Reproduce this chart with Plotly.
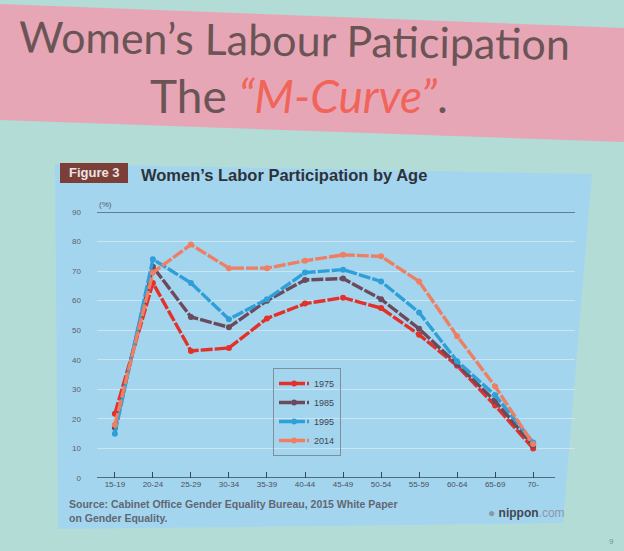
import plotly.graph_objects as go

age_groups = ["15-19", "20-24", "25-29", "30-34", "35-39", "40-44",
              "45-49", "50-54", "55-59", "60-64", "65-69", "70-"]
y1975 = [21.7, 66.0, 43.0, 44.0, 54.0, 59.0, 61.0, 57.5, 48.5, 38.0, 24.5, 10.0]
y1985 = [17.0, 71.5, 54.5, 51.0, 60.0, 67.0, 67.5, 60.5, 50.5, 38.5, 26.0, 11.0]
y1995 = [15.0, 74.0, 66.0, 53.7, 60.5, 69.5, 70.5, 66.5, 56.0, 39.5, 28.0, 12.0]
y2014 = [18.0, 69.5, 79.0, 71.0, 71.0, 73.5, 75.5, 75.0, 66.5, 48.0, 31.0, 11.5]
series_names = ["1975", "1985", "1995", "2014"]
series_colors = ["#e2312a", "#6a4a5c", "#2f9fd8", "#ef7f62"]
y_ticks = [0, 10, 20, 30, 40, 50, 60, 70, 80, 90]

xs = list(range(len(age_groups)))
fig = go.Figure()
for name, vals, col in zip(series_names, [y1975, y1985, y1995, y2014], series_colors):
    fig.add_trace(go.Scatter(
        x=xs, y=vals, name=name, mode="lines+markers",
        line=dict(color=col, width=3.4, dash="12px,2px"),
        marker=dict(color=col, size=6),
    ))

W, H = 624, 551
L, R, T, B = 97, 49, 212, 73
pw, ph = W - L - R, H - T - B


def px(x):
    return (x - L) / pw


def py(y):
    return (H - B - y) / ph


def path_from(points):
    return "M " + " L ".join(f"{px(x):.4f} {py(y):.4f}" for x, y in points) + " Z"


shapes = [
    dict(type="path", xref="paper", yref="paper", layer="below",
         path=path_from([(0, 4), (624, 28), (624, 142), (0, 120)]),
         fillcolor="#e7a6b5", line=dict(width=0)),
    dict(type="path", xref="paper", yref="paper", layer="below",
         path=path_from([(55, 164), (592, 174), (563, 523), (58, 529)]),
         fillcolor="#a4d5ef", line=dict(width=0)),
    dict(type="rect", xref="paper", yref="paper", layer="below",
         x0=px(60), x1=px(128), y0=py(183), y1=py(163),
         fillcolor="#7b3f38", line=dict(width=0)),
    dict(type="line", xref="paper", yref="y", x0=0, x1=1, y0=90, y1=90,
         line=dict(color="#4a5f80", width=1.3)),
    dict(type="line", xref="paper", yref="y", x0=0, x1=px(555), y0=0, y1=0,
         line=dict(color="#3c4656", width=1.3)),
]

annotations = [
    dict(text="Women’s Labour Paticipation", x=px(294), y=py(40), xref="paper", yref="paper",
         xanchor="center", yanchor="middle", showarrow=False, textangle=0.8,
         font=dict(family="Lato", size=43, color="#6b5456")),
    dict(text="The <span style='color:#f0645a'><i>“M-Curve”</i></span>.", x=px(299), y=py(96),
         xref="paper", yref="paper", xanchor="center", yanchor="middle", showarrow=False,
         font=dict(family="Lato", size=46, color="#6b5456")),
    dict(text="<b>Figure 3</b>", x=px(94), y=py(173), xref="paper", yref="paper",
         xanchor="center", yanchor="middle",
         showarrow=False, font=dict(family="Liberation Sans", size=13, color="#ece4e4")),
    dict(text="<b>Women’s Labor Participation by Age</b>", x=px(139), y=py(175),
         xref="paper", yref="paper", xanchor="left", yanchor="middle", showarrow=False,
         font=dict(family="Liberation Sans", size=16.5, color="#2e3238")),
    dict(text="(%)", x=px(97), y=py(204), xref="paper", yref="paper", xanchor="left",
         yanchor="middle", showarrow=False,
         font=dict(family="Liberation Sans", size=8, color="#555b66")),
    dict(text="<b>Source: Cabinet Office Gender Equality Bureau, 2015 White Paper<br>on Gender Equality.</b>",
         x=px(67), y=py(511), xref="paper", yref="paper", xanchor="left", yanchor="middle",
         align="left", showarrow=False,
         font=dict(family="Liberation Sans", size=10.5, color="#606773")),
    dict(text="<span style='color:#8c96a4'>●</span> <b>nippon</b><span style='color:#8c96a4'>.com</span>",
         x=px(486), y=py(513), xref="paper", yref="paper", xanchor="left", yanchor="middle",
         showarrow=False, font=dict(family="Liberation Sans", size=12, color="#414750")),
    dict(text="9", x=px(611), y=py(541), xref="paper", yref="paper",
         xanchor="center", yanchor="middle",
         showarrow=False, font=dict(family="Liberation Sans", size=8, color="#7d8f8d")),
]

fig.update_layout(
    width=W, height=H,
    margin=dict(l=L, r=R, t=T, b=B),
    paper_bgcolor="#b3dcd6",
    plot_bgcolor="rgba(0,0,0,0)",
    showlegend=True,
    legend=dict(x=px(273), y=py(368), xanchor="left", yanchor="top",
                bgcolor="rgba(0,0,0,0)", bordercolor="#7f8f9c", borderwidth=1,
                font=dict(family="Liberation Sans", size=9, color="#3e4450"),
                itemwidth=30, tracegroupgap=0),
    shapes=shapes,
    annotations=annotations,
    xaxis=dict(range=[-0.47, 12.1], tickmode="array", tickvals=xs, ticktext=age_groups,
               showgrid=False, zeroline=False, showline=False,
               ticks="inside", ticklen=6, tickwidth=1.3, tickcolor="#3c4656",
               tickfont=dict(family="Liberation Sans", size=8, color="#4a505c")),
    yaxis=dict(range=[0, 90], tickmode="array", tickvals=y_ticks,
               showgrid=True, gridcolor="rgba(220,235,245,0.7)", gridwidth=1,
               zeroline=False, showline=False, ticklabelstandoff=15,
               tickfont=dict(family="Liberation Sans", size=8, color="#5a6070")),
)

fig.write_html("out.html", config={"displayModeBar": False},
               post_script="document.body.style.margin='0';document.body.style.background='#b3dcd6';")
